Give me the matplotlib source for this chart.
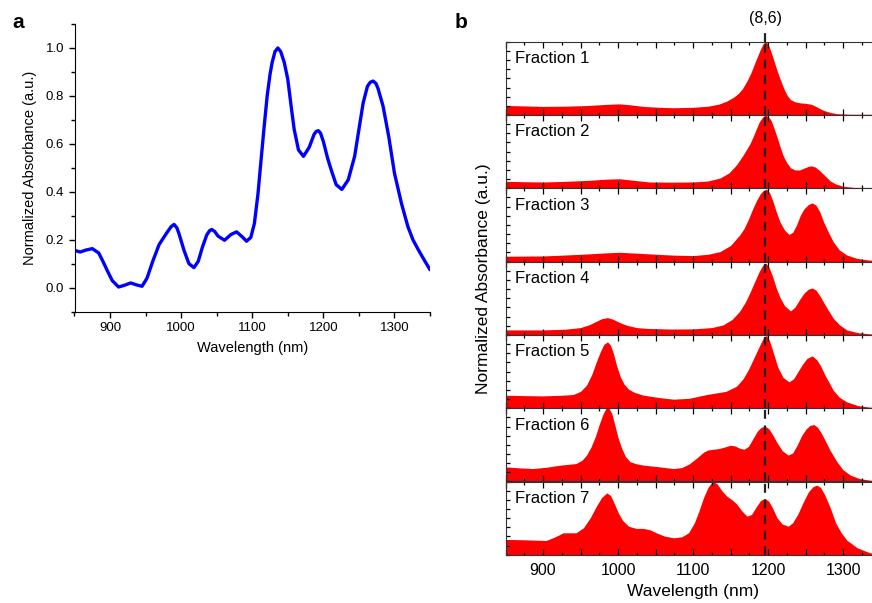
import numpy as np
import matplotlib.pyplot as plt
from matplotlib.ticker import MultipleLocator, FuncFormatter

plt.rcParams['font.family'] = ['Liberation Sans', 'DejaVu Sans']

# panel a: full spectrum
wl_a = [850, 858, 866, 875, 884, 890, 896, 903, 912, 920, 929, 937, 945, 952, 960, 969,
        980, 986, 990, 994, 997, 1004, 1011, 1018, 1024, 1030, 1036, 1040, 1043, 1047, 1052,
        1061, 1070, 1078, 1086, 1092, 1098, 1103, 1108, 1112, 1117, 1121, 1125, 1128, 1132,
        1136, 1140, 1145, 1150, 1155, 1159, 1165, 1172, 1180, 1187, 1190, 1193, 1196, 1200,
        1206, 1211, 1218, 1226, 1235, 1244, 1250, 1256, 1262, 1266, 1270, 1274, 1277, 1284,
        1292, 1300, 1310, 1319, 1326, 1334, 1342, 1350]
abs_a = [0.156, 0.149, 0.157, 0.163, 0.145, 0.11, 0.072, 0.03, 0.003, 0.01, 0.02, 0.012,
         0.006, 0.04, 0.11, 0.18, 0.23, 0.255, 0.264, 0.25, 0.225, 0.156, 0.10, 0.084, 0.11,
         0.17, 0.22, 0.238, 0.243, 0.235, 0.215, 0.198, 0.222, 0.233, 0.212, 0.194, 0.21,
         0.268, 0.39, 0.52, 0.68, 0.80, 0.89, 0.94, 0.985, 1.0, 0.985, 0.94, 0.869, 0.75,
         0.66, 0.575, 0.548, 0.585, 0.64, 0.652, 0.655, 0.645, 0.61, 0.54, 0.492, 0.43, 0.41,
         0.45, 0.548, 0.66, 0.771, 0.84, 0.857, 0.862, 0.852, 0.83, 0.757, 0.63, 0.478, 0.35,
         0.254, 0.20, 0.156, 0.115, 0.075]

# panel b: fractions
frac_names = ["Fraction 1", "Fraction 2", "Fraction 3", "Fraction 4",
              "Fraction 5", "Fraction 6", "Fraction 7"]
wl_f1 = [849, 870, 900, 930, 960, 985, 1002, 1015, 1034, 1055, 1074, 1100, 1120, 1135, 1145,
         1154, 1160, 1166, 1172, 1177, 1182, 1186, 1190, 1193, 1196, 1199, 1202, 1206, 1210,
         1214, 1218, 1222, 1226, 1230, 1236, 1243, 1250, 1258, 1265, 1274, 1283, 1292, 1310,
         1350]
f1 = [0.13, 0.125, 0.117, 0.12, 0.13, 0.145, 0.152, 0.14, 0.117, 0.105, 0.099, 0.105, 0.12,
      0.15, 0.19, 0.242, 0.29, 0.36, 0.466, 0.57, 0.7, 0.8, 0.9, 0.96, 1.0, 0.98, 0.92, 0.8,
      0.67, 0.55, 0.44, 0.34, 0.26, 0.21, 0.18, 0.165, 0.16, 0.145, 0.11, 0.063, 0.035, 0.018,
      0.01, 0.01]
wl_f2 = [849, 875, 900, 930, 960, 985, 1002, 1020, 1042, 1070, 1100, 1120, 1136, 1148, 1158,
         1166, 1172, 1176, 1180, 1184, 1188, 1192, 1196, 1200, 1204, 1208, 1212, 1216, 1220,
         1225, 1230, 1236, 1242, 1248, 1254, 1258, 1263, 1269, 1276, 1283, 1290, 1300, 1315,
         1350]
f2 = [0.095, 0.09, 0.086, 0.095, 0.108, 0.125, 0.13, 0.11, 0.086, 0.084, 0.086, 0.10, 0.14,
      0.21, 0.32, 0.44, 0.54, 0.61, 0.70, 0.80, 0.90, 0.96, 1.0, 0.98, 0.93, 0.82, 0.70, 0.57,
      0.45, 0.35, 0.28, 0.25, 0.25, 0.275, 0.30, 0.306, 0.29, 0.24, 0.17, 0.10, 0.06, 0.028,
      0.012, 0.01]
wl_f3 = [849, 875, 900, 930, 960, 985, 1002, 1025, 1051, 1075, 1100, 1120, 1136, 1150, 1162,
         1168, 1174, 1180, 1185, 1190, 1194, 1198, 1202, 1206, 1211, 1216, 1222, 1228, 1233,
         1238, 1243, 1248, 1254, 1259, 1264, 1269, 1274, 1280, 1287, 1295, 1305, 1318, 1335,
         1350]
f3 = [0.073, 0.075, 0.077, 0.09, 0.105, 0.12, 0.127, 0.115, 0.10, 0.088, 0.082, 0.10, 0.136,
      0.22, 0.36, 0.45, 0.58, 0.73, 0.84, 0.93, 0.97, 0.99, 0.94, 0.84, 0.68, 0.54, 0.43,
      0.37, 0.40, 0.50, 0.63, 0.72, 0.78, 0.80, 0.77, 0.68, 0.545, 0.41, 0.27, 0.16, 0.09,
      0.045, 0.02, 0.015]
wl_f4 = [849, 900, 930, 950, 962, 970, 978, 986, 993, 1002, 1012, 1025, 1040, 1070, 1100,
         1125, 1140, 1152, 1162, 1170, 1176, 1182, 1188, 1193, 1197, 1201, 1206, 1211, 1216,
         1222, 1230, 1236, 1242, 1248, 1254, 1259, 1264, 1270, 1276, 1282, 1287, 1295, 1305,
         1320, 1336, 1350]
f4 = [0.068, 0.068, 0.078, 0.10, 0.14, 0.18, 0.22, 0.236, 0.215, 0.17, 0.13, 0.10, 0.088,
      0.08, 0.082, 0.10, 0.136, 0.21, 0.32, 0.45, 0.58, 0.72, 0.86, 0.95, 0.98, 0.93, 0.80,
      0.64, 0.51, 0.40, 0.327, 0.38, 0.48, 0.57, 0.625, 0.64, 0.61, 0.52, 0.41, 0.31, 0.227,
      0.14, 0.068, 0.03, 0.014, 0.01]
wl_f5 = [849, 875, 900, 925, 940, 950, 958, 965, 971, 976, 981, 986, 990, 994, 998, 1003,
         1008, 1014, 1022, 1034, 1055, 1074, 1095, 1118, 1144, 1158, 1167, 1174, 1180, 1185,
         1190, 1194, 1198, 1202, 1207, 1213, 1220, 1228, 1234, 1240, 1246, 1252, 1259, 1265,
         1270, 1276, 1282, 1287, 1295, 1305, 1320, 1336, 1350]
f5 = [0.177, 0.172, 0.168, 0.177, 0.186, 0.23, 0.314, 0.46, 0.63, 0.76, 0.87, 0.905, 0.86,
      0.74, 0.586, 0.43, 0.33, 0.26, 0.215, 0.177, 0.145, 0.123, 0.135, 0.186, 0.23, 0.30,
      0.405, 0.53, 0.66, 0.77, 0.88, 0.96, 0.995, 0.92, 0.76, 0.56, 0.42, 0.36, 0.40, 0.50,
      0.60, 0.68, 0.714, 0.66, 0.58, 0.45, 0.34, 0.245, 0.15, 0.086, 0.035, 0.014, 0.01]
wl_f6 = [849, 870, 887, 905, 923, 944, 952, 958, 964, 970, 975, 980, 984, 988, 992, 996,
         1000, 1005, 1010, 1016, 1025, 1034, 1055, 1074, 1085, 1095, 1105, 1114, 1120, 1127,
         1135, 1142, 1150, 1156, 1162, 1168, 1174, 1180, 1186, 1191, 1196, 1201, 1206, 1212,
         1219, 1227, 1233, 1239, 1245, 1251, 1256, 1261, 1266, 1271, 1276, 1283, 1292, 1300,
         1310, 1322, 1336, 1350]
f6 = [0.20, 0.185, 0.177, 0.195, 0.223, 0.245, 0.29, 0.36, 0.47, 0.62, 0.78, 0.92, 1.0, 1.0,
      0.92, 0.76, 0.60, 0.45, 0.34, 0.27, 0.24, 0.223, 0.20, 0.177, 0.19, 0.24, 0.32, 0.40,
      0.43, 0.44, 0.45, 0.47, 0.495, 0.485, 0.455, 0.44, 0.48, 0.586, 0.69, 0.74, 0.755,
      0.72, 0.64, 0.53, 0.42, 0.36, 0.39, 0.50, 0.63, 0.72, 0.765, 0.777, 0.74, 0.66, 0.564,
      0.42, 0.268, 0.16, 0.086, 0.04, 0.018, 0.01]
wl_f7 = [849, 875, 904, 915, 927, 944, 954, 963, 971, 978, 985, 990, 995, 1000, 1006, 1014,
         1024, 1034, 1043, 1051, 1062, 1074, 1085, 1094, 1102, 1108, 1114, 1120, 1126, 1132,
         1138, 1145, 1152, 1158, 1165, 1172, 1178, 1184, 1190, 1196, 1201, 1206, 1212, 1219,
         1227, 1233, 1240, 1247, 1254, 1260, 1265, 1270, 1276, 1283, 1290, 1297, 1305, 1319,
         1336, 1350]
f7 = [0.21, 0.205, 0.195, 0.24, 0.30, 0.30, 0.37, 0.505, 0.66, 0.78, 0.845, 0.81, 0.70,
      0.58, 0.47, 0.39, 0.36, 0.36, 0.34, 0.30, 0.255, 0.232, 0.245, 0.30, 0.44, 0.60, 0.78,
      0.92, 1.0, 0.97, 0.88, 0.80, 0.75, 0.695, 0.60, 0.527, 0.55, 0.65, 0.74, 0.768, 0.73,
      0.64, 0.505, 0.42, 0.39, 0.44, 0.56, 0.72, 0.86, 0.93, 0.95, 0.92, 0.81, 0.64, 0.44,
      0.31, 0.20, 0.095, 0.027, 0.015]
frac_wl = [wl_f1, wl_f2, wl_f3, wl_f4, wl_f5, wl_f6, wl_f7]
frac_abs = [f1, f2, f3, f4, f5, f6, f7]
chirality_wl = 1196

W, H = 872, 603
fig = plt.figure(figsize=(W / 100, H / 100), dpi=100)

# ---- panel a ----
axa = fig.add_axes([74.5 / W, 1 - 311.7 / H, 355.5 / W, 287.7 / H])
axa.plot(wl_a, abs_a, color='#0000ff', lw=2.4, solid_joinstyle='round',
         solid_capstyle='round')
axa.set_xlim(850, 1350)
axa.set_ylim(-0.1, 1.1)
axa.spines['top'].set_visible(False)
axa.spines['right'].set_visible(False)
axa.xaxis.set_major_locator(MultipleLocator(100))
axa.xaxis.set_minor_locator(MultipleLocator(50))
axa.yaxis.set_major_locator(MultipleLocator(0.2))
axa.yaxis.set_minor_locator(MultipleLocator(0.1))
axa.yaxis.set_major_formatter(FuncFormatter(lambda v, p: f"{v:.1f}"))
axa.tick_params(which='both', direction='out', labelsize=9.5, width=1)
axa.tick_params(which='major', length=4)
axa.tick_params(which='minor', length=3)
axa.set_xlabel("Wavelength (nm)", fontsize=10.5, labelpad=5)
axa.set_ylabel("Normalized Absorbance (a.u.)", fontsize=10.5, labelpad=6)
fig.text(12 / W, 1 - 22 / H, "a", fontsize=15, fontweight='bold', va='center')

# ---- panel b ----
top_px, panel_px = 41.7, 73.3
axes_b = []
for i, name in enumerate(frac_names):
    bottom = 1 - (top_px + panel_px * (i + 1)) / H
    ax = fig.add_axes([505.5 / W, bottom, 375 / W, panel_px / H])
    ax.fill_between(frac_wl[i], frac_abs[i], -1, color='#ff0000', lw=0)
    ax.set_xlim(850, 1350)
    ax.set_ylim(0, 1)
    ax.xaxis.set_major_locator(MultipleLocator(50))
    ax.xaxis.set_minor_locator(MultipleLocator(25))
    ax.yaxis.set_major_locator(MultipleLocator(0.125))
    ax.tick_params(which='both', direction='in', top=True, right=True, labelleft=False,
                   labelbottom=False, width=0.9)
    ax.tick_params(which='major', length=4)
    ax.tick_params(which='minor', length=2)
    ax.tick_params(axis='y', length=3)
    for s in ax.spines.values():
        s.set_linewidth(0.8)
        s.set_color('#333333')
    ax.axvline(chirality_wl, color='#222222', lw=1.6, ls=(0, (4, 3)), zorder=3)
    ax.text(0.025, 0.77, name, transform=ax.transAxes, fontsize=12, va='center')
    axes_b.append(ax)

ax_last = axes_b[-1]
ax_last.tick_params(labelbottom=True, labelsize=11.5, pad=6)
ax_last.xaxis.set_major_formatter(FuncFormatter(lambda v, p: f"{v:.0f}" if v % 100 == 0 else ""))
ax_last.set_xlabel("Wavelength (nm)", fontsize=12.5, labelpad=4)

ax_top = axes_b[0]
ax_top.plot([chirality_wl, chirality_wl], [1, 1.18], color='#222222', lw=1.6,
            ls=(0, (4, 3)), clip_on=False)
ax_top.text(chirality_wl, 1.22, "(8,6)", fontsize=11.5, ha='center', va='bottom')

fig.text(483 / W, 1 - 279 / H, "Normalized Absorbance (a.u.)", fontsize=12.5,
         rotation=90, ha='center', va='center')
fig.text(455 / W, 1 - 22 / H, "b", fontsize=15, fontweight='bold', va='center')

fig.savefig("out.png", dpi=100)
